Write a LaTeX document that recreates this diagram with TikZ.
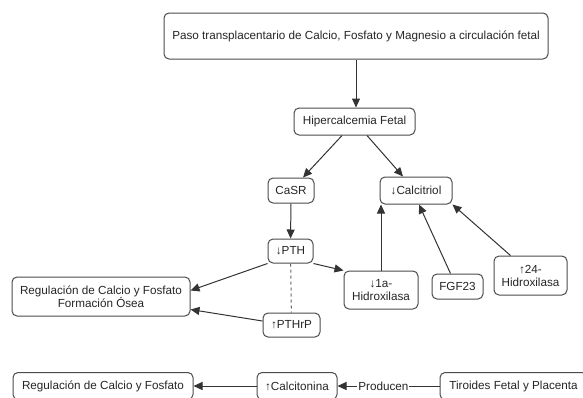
\documentclass[tikz,border=0pt]{standalone}
\usepackage{fontspec}
\setmainfont{Liberation Sans}
\usetikzlibrary{arrows.meta}

\begin{document}
\begin{tikzpicture}[x=1pt,y=-1pt,
    caja/.style={draw=black!70, rounded corners=5pt, line width=1pt, text=black!85,
      align=center, inner sep=0pt, font=\fontsize{11.7}{13}\selectfont},
    flecha/.style={draw=black!80, line width=1pt, -{Triangle[length=9pt,width=8pt]}}]
  \useasboundingbox[fill=white] (0,0) rectangle (583,397);
  % cajas: nombre/x/y/ancho/alto/texto
  \foreach \n/\x/\y/\w/\h/\t in {
      paso/356/36/384/46/{Paso transplacentario de Calcio, Fosfato y Magnesio a circulación fetal},
      hiper/354.5/121.5/121/27/{Hipercalcemia Fetal},
      casr/291/190.5/46/25/{CaSR},
      calcitriol/416/190.5/72/27/{↓Calcitriol},
      pth/290.5/251/45/24/{↓PTH},
      regosea/101/296.5/178/39/{Regulación de Calcio y Fosfato\\Formación Ósea},
      pthrp/291.5/325/57/24/{↑PTHrP},
      hidroxa/381/290/74/38/{↓1a-\\Hidroxilasa},
      fgf/457.5/286.5/51/25/{FGF23},
      hidroxb/530.5/275.5/73/39/{↑24-\\Hidroxilasa},
      reg/103/386/180/27/{Regulación de Calcio y Fosfato},
      calcitonina/297/386/80/27/{↑Calcitonina},
      tiroides/513.5/386/147/27/{Tiroides Fetal y Placenta}} {
    \node[caja, minimum width=\w pt, minimum height=\h pt] (\n) at (\x,\y) {\t};
  }
  \draw[flecha] (paso.south) -- (paso.south |- hiper.north);
  \draw[flecha] ([xshift=-12.5pt]hiper.south) -- ([xshift=12pt]casr.north);
  \draw[flecha] ([xshift=12.5pt]hiper.south) -- ([xshift=-13pt]calcitriol.north);
  \draw[flecha] (casr) -- (pth);
  \draw[flecha] (pth.south west) -- ([yshift=6pt]regosea.east);
  \draw[flecha] ([yshift=4pt]pthrp.west) -- ([yshift=-13pt]regosea.east);
  \draw[black!60, line width=1pt, dashed] (pth) -- (pthrp);
  \draw[flecha] (pth.south east) -- (hidroxa.north west);
  \draw[flecha] (hidroxa.north) -- (hidroxa.north |- calcitriol.south);
  \draw[flecha] ([xshift=-7pt]fgf.north) -- ([xshift=3pt]calcitriol.south);
  \draw[flecha] ([xshift=-20pt]hidroxb.north) -- (calcitriol.south east);
  \draw[flecha] (calcitonina) -- (reg);
  \draw[flecha] (tiroides) -- node[pos=0.55, fill=white, inner sep=1pt, text=black!85,
    font=\fontsize{11.7}{13}\selectfont] {Producen} (calcitonina);
\end{tikzpicture}
\end{document}
